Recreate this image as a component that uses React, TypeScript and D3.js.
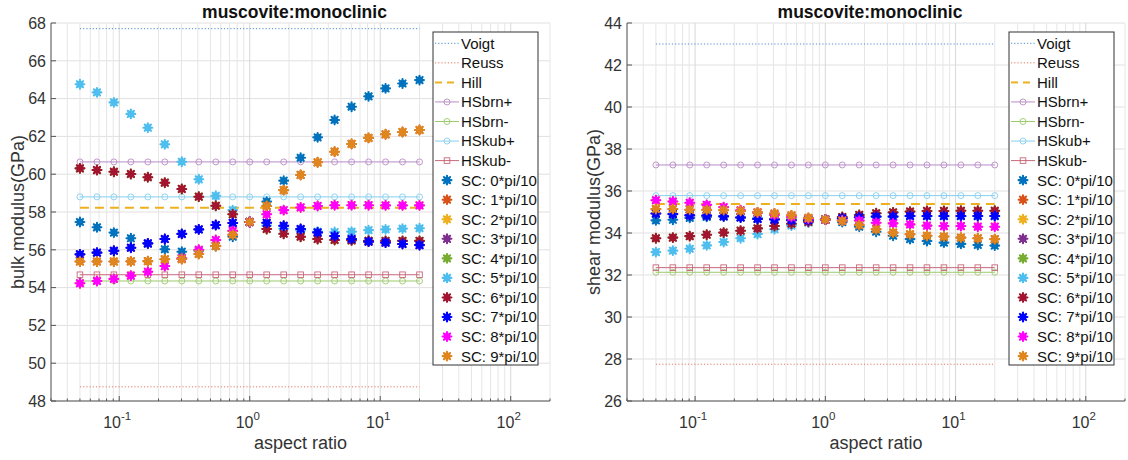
import React from 'react';
import * as d3 from 'd3';

// aspect ratios (21 points, 0.05 .. 20)
const aspectRatio = [0.05, 0.0675, 0.091, 0.1228, 0.1657, 0.2236, 0.3017, 0.4071, 0.5493, 0.7411, 1,
  1.349, 1.821, 2.456, 3.314, 4.472, 6.034, 8.142, 10.99, 14.82, 20];

const xGrid = [0.03, 0.04, 0.05, 0.06, 0.07, 0.08, 0.09, 0.1, 0.2, 0.3, 0.4, 0.5, 0.6, 0.7, 0.8, 0.9,
  1, 2, 3, 4, 5, 6, 7, 8, 9, 10, 20, 30, 40, 50, 60, 70, 80, 90, 100, 200];
const xDecades = [0.1, 1, 10, 100];
const xDecadeExp = ['-1', '0', '1', '2'];

// bulk modulus
const bulkTicks = [48, 50, 52, 54, 56, 58, 60, 62, 64, 66, 68];
const bulkBounds = [67.7, 48.75, 58.22, 60.65, 54.35, 58.8, 54.68]; // voigt reuss hill hsbrn+ hsbrn- hskub+ hskub-
const bulkSC0 = [57.47, 57.19, 56.91, 56.61, 56.33, 56.03, 55.9, 55.95, 56.2, 56.69, 57.47, 58.55, 59.66, 60.87, 61.95, 62.87, 63.57, 64.12, 64.54, 64.8, 64.98];
const bulkSC5 = [64.76, 64.33, 63.8, 63.19, 62.46, 61.58, 60.66, 59.73, 58.86, 58.1, 57.47, 57.28, 57.12, 57.02, 56.96, 56.94, 56.96, 57.04, 57.08, 57.12, 57.14];
const bulkSC6 = [60.31, 60.22, 60.13, 60.01, 59.84, 59.55, 59.22, 58.81, 58.33, 57.88, 57.47, 57.1, 56.85, 56.69, 56.57, 56.52, 56.5, 56.48, 56.47, 56.47, 56.47];
const bulkSC7 = [55.76, 55.85, 55.95, 56.11, 56.34, 56.57, 56.84, 57.08, 57.31, 57.42, 57.47, 57.43, 57.27, 57.1, 56.92, 56.73, 56.57, 56.43, 56.38, 56.31, 56.25];
const bulkSC8 = [54.23, 54.35, 54.46, 54.63, 54.84, 55.14, 55.55, 56.0, 56.52, 57.0, 57.47, 57.88, 58.1, 58.24, 58.32, 58.36, 58.36, 58.36, 58.35, 58.35, 58.35];
const bulkSC9 = [55.38, 55.38, 55.38, 55.39, 55.4, 55.5, 55.51, 55.78, 56.2, 56.8, 57.47, 58.32, 59.16, 59.96, 60.63, 61.19, 61.6, 61.92, 62.11, 62.23, 62.34];
// symmetric angles sit under their twins
const bulkSC1 = bulkSC9;
const bulkSC2 = bulkSC8;
const bulkSC3 = bulkSC7;
const bulkSC4 = bulkSC6;

// shear modulus
const shearTicks = [26, 28, 30, 32, 34, 36, 38, 40, 42, 44];
const shearBounds = [43.0, 27.75, 35.38, 37.24, 32.13, 35.78, 32.35];
const shearSC0 = [34.6, 34.63, 34.72, 34.77, 34.78, 34.74, 34.7, 34.67, 34.65, 34.64, 34.64, 34.52, 34.3, 34.06, 33.87, 33.71, 33.62, 33.54, 33.48, 33.43, 33.4];
const shearSC5 = [33.09, 33.16, 33.25, 33.41, 33.57, 33.75, 33.95, 34.18, 34.35, 34.5, 34.64, 34.7, 34.74, 34.77, 34.78, 34.8, 34.8, 34.8, 34.8, 34.8, 34.8];
const shearSC6 = [33.75, 33.78, 33.85, 33.92, 34.02, 34.11, 34.22, 34.33, 34.44, 34.53, 34.64, 34.76, 34.86, 34.94, 34.98, 35.02, 35.05, 35.05, 35.06, 35.06, 35.06];
const shearSC7 = [34.93, 34.9, 34.84, 34.83, 34.8, 34.74, 34.67, 34.64, 34.61, 34.61, 34.64, 34.7, 34.75, 34.78, 34.78, 34.81, 34.81, 34.81, 34.81, 34.81, 34.81];
const shearSC8 = [35.56, 35.5, 35.44, 35.34, 35.23, 35.08, 34.97, 34.86, 34.76, 34.68, 34.64, 34.6, 34.59, 34.49, 34.46, 34.41, 34.35, 34.33, 34.33, 34.3, 34.3];
const shearSC9 = [35.14, 35.14, 35.11, 35.1, 35.09, 35.05, 34.98, 34.93, 34.84, 34.72, 34.64, 34.58, 34.38, 34.18, 34.02, 33.94, 33.87, 33.83, 33.78, 33.75, 33.71];
const shearSC1 = shearSC9;
const shearSC2 = shearSC8;
const shearSC3 = shearSC7;
const shearSC4 = shearSC6;

const boundNames = ['Voigt', 'Reuss', 'Hill', 'HSbrn+', 'HSbrn-', 'HSkub+', 'HSkub-'];
const boundColors = ['#4a8fd0', '#e27a5c', '#EDB120', '#b98bc6', '#9cc96b', '#86cfee', '#c8687a'];
const scNames = ['SC: 0*pi/10', 'SC: 1*pi/10', 'SC: 2*pi/10', 'SC: 3*pi/10', 'SC: 4*pi/10',
  'SC: 5*pi/10', 'SC: 6*pi/10', 'SC: 7*pi/10', 'SC: 8*pi/10', 'SC: 9*pi/10'];
const scColors = ['#0072BD', '#D95319', '#EDB120', '#7E2F8E', '#77AC30', '#4DBEEE', '#A2142F', '#0000FF', '#FF00FF', '#DF861F'];

const STAR = 'M-4.4,0L4.4,0M0,-4.4L0,4.4M-3.1,-3.1L3.1,3.1M-3.1,3.1L3.1,-3.1';
const FONT = 'Liberation Sans, Arial, sans-serif';

function Star({ x, y, color }) {
  return (
    <g transform={`translate(${x},${y})`}>
      <circle r={3.5} fill={color} />
      <path d={STAR} stroke={color} strokeWidth={2.1} strokeLinecap="round" fill="none" />
    </g>
  );
}

function BoundMarker({ x, y, i, color }) {
  if (i < 3) return null;
  if (i === 6) return <rect x={x - 2.8} y={y - 2.8} width={5.6} height={5.6} fill="none" stroke={color} strokeWidth={0.9} />;
  return <circle cx={x} cy={y} r={3} fill="none" stroke={color} strokeWidth={0.9} />;
}

function boundDash(i) {
  if (i < 2) return '1.2,2';
  if (i === 2) return '9,6';
  return undefined;
}

function Panel({ x0, x1, yDomain, yTicks, yLabel, bounds, sc, legendRight, labelX }) {
  const top = 23, bottom = 401;
  const x = d3.scaleLog().domain([0.03, 200]).range([x0, x1]);
  const y = d3.scaleLinear().domain(yDomain).range([bottom, top]);
  const xa = aspectRatio[0], xb = aspectRatio[aspectRatio.length - 1];
  const lx = legendRight - 105, ly = 32, rowH = 19.55;
  const nRows = boundNames.length + scNames.length;

  return (
    <g fontFamily={FONT}>
      {/* grid */}
      {yTicks.map(t => (
        <line key={'hg' + t} x1={x0} x2={x1} y1={y(t)} y2={y(t)} stroke="#e0e0e0" strokeWidth={1} />
      ))}
      {xGrid.map(t => (
        <line key={'vg' + t} x1={x(t)} x2={x(t)} y1={top} y2={bottom}
          stroke={xDecades.includes(t) ? '#d8d8d8' : '#e6e6e6'} strokeWidth={1} />
      ))}

      {/* bounds */}
      {bounds.map((v, i) => (
        <g key={'b' + i}>
          <line x1={x(xa)} x2={x(xb)} y1={y(v)} y2={y(v)} stroke={boundColors[i]}
            strokeWidth={i === 2 ? 2 : 1} strokeDasharray={boundDash(i)} />
          {aspectRatio.map((a, j) => (
            <BoundMarker key={j} x={x(a)} y={y(v)} i={i} color={boundColors[i]} />
          ))}
        </g>
      ))}

      {/* self-consistent series */}
      {sc.map((vals, k) => (
        <g key={'sc' + k}>
          {vals.map((v, j) => <Star key={j} x={x(aspectRatio[j])} y={y(v)} color={scColors[k]} />)}
        </g>
      ))}

      {/* axes */}
      <line x1={x0} x2={x1} y1={bottom} y2={bottom} stroke="#555" strokeWidth={1} />
      <line x1={x0} x2={x0} y1={top} y2={bottom} stroke="#555" strokeWidth={1} />
      {xGrid.map(t => (
        <line key={'xt' + t} x1={x(t)} x2={x(t)} y1={bottom} y2={bottom - (xDecades.includes(t) ? 5 : 2.5)}
          stroke="#555" strokeWidth={1} />
      ))}
      {yTicks.map(t => (
        <g key={'yt' + t}>
          <line x1={x0} x2={x0 + 5} y1={y(t)} y2={y(t)} stroke="#555" strokeWidth={1} />
          <text x={x0 - 5} y={y(t)} dy="0.36em" textAnchor="end" fontSize={16} fill="#333">{t}</text>
        </g>
      ))}
      {xDecades.map((t, i) => (
        <text key={'xl' + t} x={x(t) - 2} y={428} textAnchor="middle" fontSize={16} fill="#333">
          10<tspan dy={-8} fontSize={11.5}>{xDecadeExp[i]}</tspan>
        </text>
      ))}

      {/* labels */}
      <text x={(x0 + x1) / 2 - 6} y={18} textAnchor="middle" fontSize={17.5} fontWeight="bold" fill="#111">
        muscovite:monoclinic
      </text>
      <text x={(x0 + x1) / 2} y={449} textAnchor="middle" fontSize={18} fill="#333">aspect ratio</text>
      <text transform={`translate(${labelX},212) rotate(-90)`} textAnchor="middle" fontSize={18} fill="#333">
        {yLabel}
      </text>

      {/* legend */}
      <rect x={lx} y={ly} width={105} height={333} fill="#fff" stroke="#333" strokeWidth={1} />
      {Array.from({ length: nRows }).map((_, r) => {
        const cy = ly + 11.3 + r * rowH;
        const sx = lx + 2, ex = lx + 26, mx = lx + 14;
        if (r < boundNames.length) {
          return (
            <g key={'lg' + r}>
              <line x1={sx} x2={ex} y1={cy} y2={cy} stroke={boundColors[r]} strokeWidth={r === 2 ? 2 : 1}
                strokeDasharray={r < 2 ? '1.2,2' : r === 2 ? '7,5' : undefined} />
              <BoundMarker x={mx} y={cy} i={r} color={boundColors[r]} />
              <text x={lx + 28} y={cy} dy="0.36em" fontSize={15} fill="#111">{boundNames[r]}</text>
            </g>
          );
        }
        const k = r - boundNames.length;
        return (
          <g key={'lg' + r}>
            <Star x={mx} y={cy} color={scColors[k]} />
            <text x={lx + 28} y={cy} dy="0.36em" fontSize={15} fill="#111">{scNames[k]}</text>
          </g>
        );
      })}
    </g>
  );
}

export default function App() {
  const bulkSC = [bulkSC0, bulkSC1, bulkSC2, bulkSC3, bulkSC4, bulkSC5, bulkSC6, bulkSC7, bulkSC8, bulkSC9];
  const shearSC = [shearSC0, shearSC1, shearSC2, shearSC3, shearSC4, shearSC5, shearSC6, shearSC7, shearSC8, shearSC9];
  return (
    <svg width={1128} height={460} style={{ position: 'absolute', left: 0, top: 0, display: 'block', background: '#fff' }}>
      <Panel x0={51} x1={550} yDomain={[48, 68]} yTicks={bulkTicks} yLabel="bulk modulus(GPa)"
        bounds={bulkBounds} sc={bulkSC} legendRight={538} labelX={24} />
      <Panel x0={627} x1={1125} yDomain={[26, 44]} yTicks={shearTicks} yLabel="shear modulus(GPa)"
        bounds={shearBounds} sc={shearSC} legendRight={1114} labelX={600} />
    </svg>
  );
}
